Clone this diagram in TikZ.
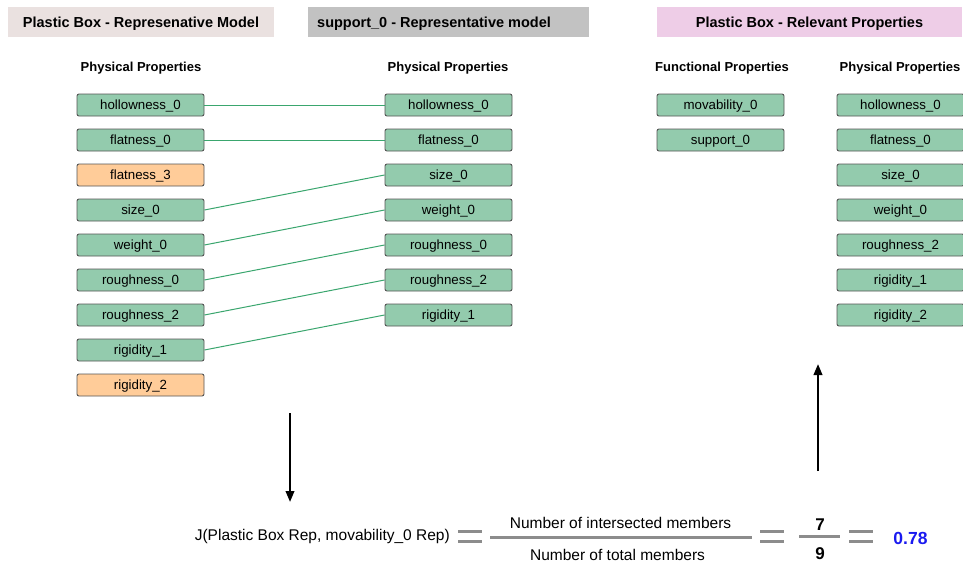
\documentclass[tikz,border=0pt]{standalone}
\usepackage{fontspec}
\setmainfont{Liberation Sans}
\usetikzlibrary{arrows.meta}
\definecolor{propgreen}{HTML}{93CBAD}
\definecolor{proporange}{HTML}{FFCC99}
\definecolor{linkgreen}{HTML}{3AA66E}
\definecolor{hdrone}{HTML}{EAE1E0}
\definecolor{hdrtwo}{HTML}{C2C2C2}
\definecolor{hdrthree}{HTML}{EECDE7}
\definecolor{boxedge}{HTML}{555555}
\definecolor{eqgray}{HTML}{8C8C8C}
\definecolor{resultblue}{HTML}{1A1AF0}
\tikzset{
  prop/.style={draw=boxedge, line width=0.9pt, rounded corners=2pt, fill=propgreen,
    minimum width=127pt, minimum height=22pt, inner sep=0pt,
    text height=12pt, text depth=2.8pt,
    font=\fontsize{13.3}{15}\selectfont},
  dropped/.style={prop, fill=proporange},
  headerband/.style={minimum height=30pt, inner sep=0pt},
  headertext/.style={inner sep=0pt, anchor=base, font=\bfseries\fontsize{14.5}{17}\selectfont},
  subhead/.style={inner sep=0pt, anchor=base, font=\bfseries\fontsize{13}{15}\selectfont},
  link/.style={draw=linkgreen, line width=1pt},
  flow/.style={draw=black, line width=2.2pt, -{Triangle[length=11pt,width=8.5pt]}},
  eqbar/.style={draw=eqgray, line width=3.1pt},
  fracbar/.style={draw=eqgray, line width=2.8pt},
  formula/.style={inner sep=0pt, font=\fontsize{15.5}{18}\selectfont},
  digit/.style={inner sep=0pt, font=\bfseries\fontsize{17}{20}\selectfont}
}
\begin{document}
\begin{tikzpicture}[x=1pt,y=-1pt]
\useasboundingbox[fill=white] (0,0) rectangle (963,563);

% section headers
\node[headerband, fill=hdrone, minimum width=266pt] (h1) at (141,22) {};
\node[headertext] (h1t) at (141,27.5) {Plastic Box - Represenative Model};
\node[headerband, fill=hdrtwo, minimum width=281pt] (h2) at (448.5,22) {};
\node[headertext, anchor=base west] (h2t) at (317,27.5) {support\_0 - Representative model};
\node[headerband, fill=hdrthree, minimum width=305pt] (h3) at (809.5,22) {};
\node[headertext] (h3t) at (809.5,27.5) {Plastic Box - Relevant Properties};

% column titles
\node[subhead] (s1) at (141,71) {Physical Properties};
\node[subhead] (s2) at (448,71) {Physical Properties};
\node[subhead] (s3) at (722,71) {Functional Properties};
\node[subhead] (s4) at (900,71) {Physical Properties};

% representative model of the plastic box
\node[prop]    (l1) at (140.5,105) {hollowness\_0};
\node[prop]    (l2) at (140.5,140) {flatness\_0};
\node[dropped] (l3) at (140.5,175) {flatness\_3};
\node[prop]    (l4) at (140.5,210) {size\_0};
\node[prop]    (l5) at (140.5,245) {weight\_0};
\node[prop]    (l6) at (140.5,280) {roughness\_0};
\node[prop]    (l7) at (140.5,315) {roughness\_2};
\node[prop]    (l8) at (140.5,350) {rigidity\_1};
\node[dropped] (l9) at (140.5,385) {rigidity\_2};

% representative model of support_0
\node[prop] (m1) at (448.5,105) {hollowness\_0};
\node[prop] (m2) at (448.5,140) {flatness\_0};
\node[prop] (m3) at (448.5,175) {size\_0};
\node[prop] (m4) at (448.5,210) {weight\_0};
\node[prop] (m5) at (448.5,245) {roughness\_0};
\node[prop] (m6) at (448.5,280) {roughness\_2};
\node[prop] (m7) at (448.5,315) {rigidity\_1};

% relevant properties
\node[prop] (f1) at (720.5,105) {movability\_0};
\node[prop] (f2) at (720.5,140) {support\_0};

\node[prop] (r1) at (900.5,105) {hollowness\_0};
\node[prop] (r2) at (900.5,140) {flatness\_0};
\node[prop] (r3) at (900.5,175) {size\_0};
\node[prop] (r4) at (900.5,210) {weight\_0};
\node[prop] (r5) at (900.5,245) {roughness\_2};
\node[prop] (r6) at (900.5,280) {rigidity\_1};
\node[prop] (r7) at (900.5,315) {rigidity\_2};

% shared properties
\draw[link] (l1.east) -- (m1.west);
\draw[link] (l2.east) -- (m2.west);
\draw[link] (l4.east) -- (m3.west);
\draw[link] (l5.east) -- (m4.west);
\draw[link] (l6.east) -- (m5.west);
\draw[link] (l7.east) -- (m6.west);
\draw[link] (l8.east) -- (m7.west);

% flow arrows
\coordinate (downtop) at (290,413);
\coordinate (downend) at (290,502);
\coordinate (uptail) at (818,471);
\coordinate (uphead) at (818,364);
\draw[flow] (downtop) -- (downend);
\draw[flow] (uptail) -- (uphead);

% Jaccard similarity
\node[formula, anchor=east] (jlabel) at (450,536.5) {J(Plastic Box Rep, movability\_0 Rep)};
\draw[eqbar] (458,531.5) -- (482,531.5);
\draw[eqbar] (458,541.5) -- (482,541.5);
\coordinate (fracl) at (490,537.5);
\coordinate (fracr) at (752,537.5);
\draw[fracbar] (fracl) -- (fracr);
\node[formula] (numer) at (620.5,522.5) {Number of intersected members};
\node[formula] (denom) at (617.5,554.5) {Number of total members};
\draw[eqbar] (760,531.5) -- (784,531.5);
\draw[eqbar] (760,541.5) -- (784,541.5);
\coordinate (sevl) at (799,536.5);
\coordinate (sevr) at (840,536.5);
\draw[fracbar] (sevl) -- (sevr);
\node[digit] (seven) at (820,525) {7};
\node[digit] (nine) at (820,553.5) {9};
\draw[eqbar] (849,531.5) -- (873,531.5);
\draw[eqbar] (849,541.5) -- (873,541.5);
\node[inner sep=0pt, text=resultblue, font=\bfseries\fontsize{17.5}{20}\selectfont] (result) at (910.5,538.5) {0.78};
\end{tikzpicture}
\end{document}
